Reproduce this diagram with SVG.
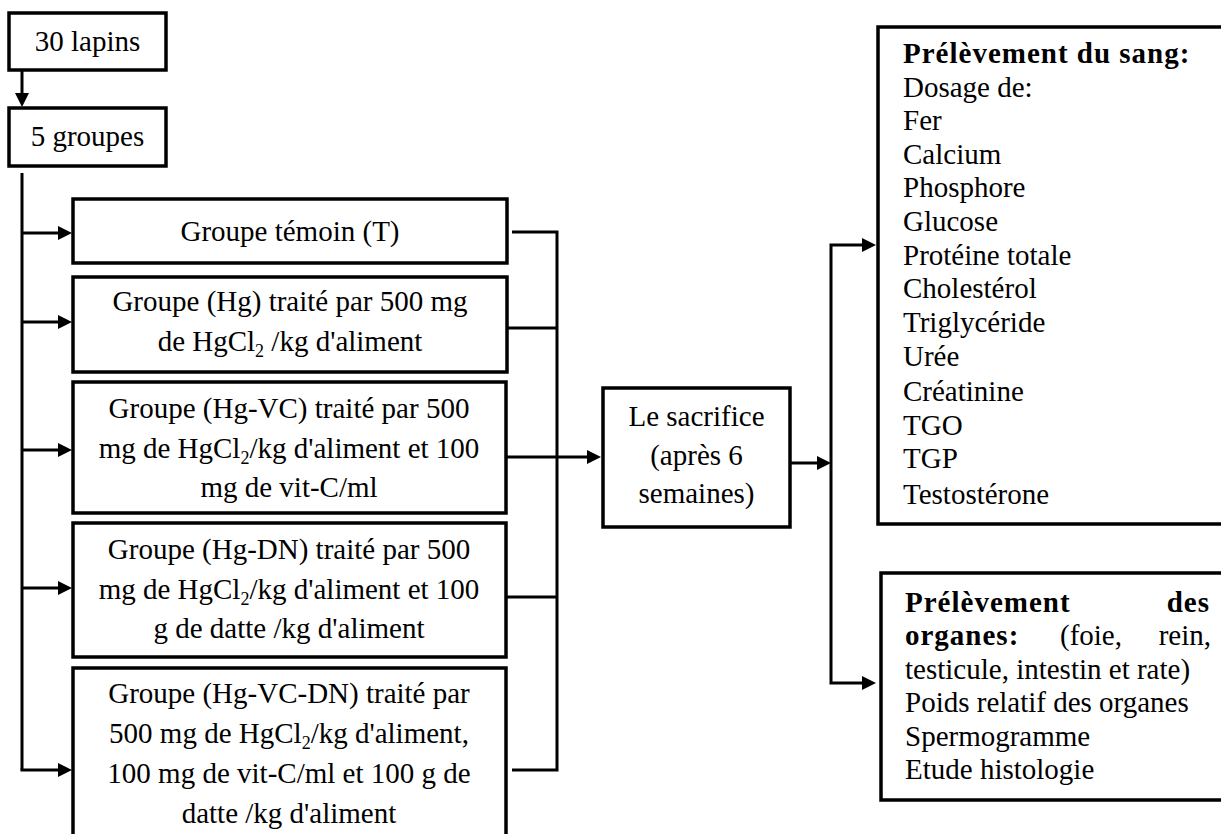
<svg xmlns="http://www.w3.org/2000/svg" width="1221" height="834" viewBox="0 0 1221 834">
<style>
.box{fill:#fff;stroke:#000;stroke-width:3.5}
.ln{fill:none;stroke:#000;stroke-width:3}
.t{font-family:'Liberation Serif','Times New Roman',serif;font-size:29px;fill:#000}
.c{text-anchor:middle}
.b{font-weight:bold;letter-spacing:1px}
.e{text-anchor:end}
.sub{font-size:18px}
</style>
<defs>
<marker id="ah" markerUnits="userSpaceOnUse" markerWidth="15" markerHeight="15" refX="3" refY="7" orient="auto">
<path d="M0,0 L14,7 L0,14 z" fill="#000"/>
</marker>
</defs>
<rect width="1221" height="834" fill="#fff"/>

<g id="connectors">
<path class="ln" d="M22,70 V96" marker-end="url(#ah)"/>
<path class="ln" d="M22,173 V770"/>
<path class="ln" d="M22,233 H61" marker-end="url(#ah)"/>
<path class="ln" d="M22,322 H61" marker-end="url(#ah)"/>
<path class="ln" d="M22,450 H61" marker-end="url(#ah)"/>
<path class="ln" d="M22,588 H61" marker-end="url(#ah)"/>
<path class="ln" d="M20.5,770 H61" marker-end="url(#ah)"/>
<path class="ln" d="M512,232 H557 V770 H512"/>
<path class="ln" d="M507,328 H557"/>
<path class="ln" d="M507,597 H557"/>
<path class="ln" d="M507,457 H590" marker-end="url(#ah)"/>
<path class="ln" d="M790,463 H820" marker-end="url(#ah)"/>
<path class="ln" d="M831,463 V245 H865" marker-end="url(#ah)"/>
<path class="ln" d="M831,463 V683 H865" marker-end="url(#ah)"/>
</g>

<g id="n-lapins">
<rect class="box" x="9" y="13" width="157" height="57"/>
<text class="t c" x="87.5" y="51">30 lapins</text>
</g>
<g id="n-groupes">
<rect class="box" x="9" y="108" width="157" height="58"/>
<text class="t c" x="87.5" y="146">5 groupes</text>
</g>

<g id="n-temoin">
<rect class="box" x="73" y="199" width="434" height="64"/>
<text class="t c" x="290" y="241">Groupe témoin (T)</text>
</g>
<g id="n-hg">
<rect class="box" x="73" y="277" width="434" height="95"/>
<text class="t c" x="290" y="311">Groupe (Hg) traité par 500 mg</text>
<text class="t c" x="290" y="351">de HgCl<tspan class="sub" dy="6">2</tspan><tspan dy="-6"> /kg d'aliment</tspan></text>
</g>
<g id="n-hgvc">
<rect class="box" x="73" y="382" width="433" height="131"/>
<text class="t c" x="289" y="418">Groupe (Hg-VC) traité par 500</text>
<text class="t c" x="289" y="458">mg de HgCl<tspan class="sub" dy="6">2</tspan><tspan dy="-6">/kg d'aliment et 100</tspan></text>
<text class="t c" x="289" y="497">mg de vit-C/ml</text>
</g>
<g id="n-hgdn">
<rect class="box" x="73" y="523" width="433" height="134"/>
<text class="t c" x="289" y="559">Groupe (Hg-DN) traité par 500</text>
<text class="t c" x="289" y="599">mg de HgCl<tspan class="sub" dy="6">2</tspan><tspan dy="-6">/kg d'aliment et 100</tspan></text>
<text class="t c" x="289" y="638">g de datte /kg d'aliment</text>
</g>
<g id="n-hgvcdn">
<rect class="box" x="73" y="668" width="433" height="190"/>
<text class="t c" x="289" y="703">Groupe (Hg-VC-DN) traité par</text>
<text class="t c" x="289" y="743">500 mg de HgCl<tspan class="sub" dy="6">2</tspan><tspan dy="-6">/kg d'aliment,</tspan></text>
<text class="t c" x="289" y="783">100 mg de vit-C/ml et 100 g de</text>
<text class="t c" x="289" y="823">datte /kg d'aliment</text>
</g>

<g id="n-sacrifice">
<rect class="box" x="603" y="388" width="187" height="139"/>
<text class="t c" x="696.5" y="426">Le sacrifice</text>
<text class="t c" x="696.5" y="465">(après 6</text>
<text class="t c" x="696.5" y="503">semaines)</text>
</g>

<g id="n-sang">
<rect class="box" x="878" y="27" width="400" height="497"/>
<text class="t b" x="903" y="63">Prélèvement du sang:</text>
<text class="t" x="903" y="97">Dosage de:</text>
<text class="t" x="903" y="130">Fer</text>
<text class="t" x="903" y="164">Calcium</text>
<text class="t" x="903" y="197">Phosphore</text>
<text class="t" x="903" y="231">Glucose</text>
<text class="t" x="903" y="265">Protéine totale</text>
<text class="t" x="903" y="298">Cholestérol</text>
<text class="t" x="903" y="332">Triglycéride</text>
<text class="t" x="903" y="366">Urée</text>
<text class="t" x="903" y="401">Créatinine</text>
<text class="t" x="903" y="435">TGO</text>
<text class="t" x="903" y="468">TGP</text>
<text class="t" x="903" y="504">Testostérone</text>
</g>

<g id="n-organes">
<rect class="box" x="881" y="573" width="400" height="227"/>
<text class="t b" x="905" y="612">Prélèvement</text>
<text class="t b e" x="1210" y="612">des</text>
<text class="t b" x="905" y="645">organes:</text>
<text class="t" x="1060" y="645">(foie,</text>
<text class="t e" x="1211" y="645">rein,</text>
<text class="t" x="905" y="679">testicule, intestin et rate)</text>
<text class="t" x="905" y="712">Poids relatif des organes</text>
<text class="t" x="905" y="746">Spermogramme</text>
<text class="t" x="905" y="779">Etude histologie</text>
</g>
</svg>
